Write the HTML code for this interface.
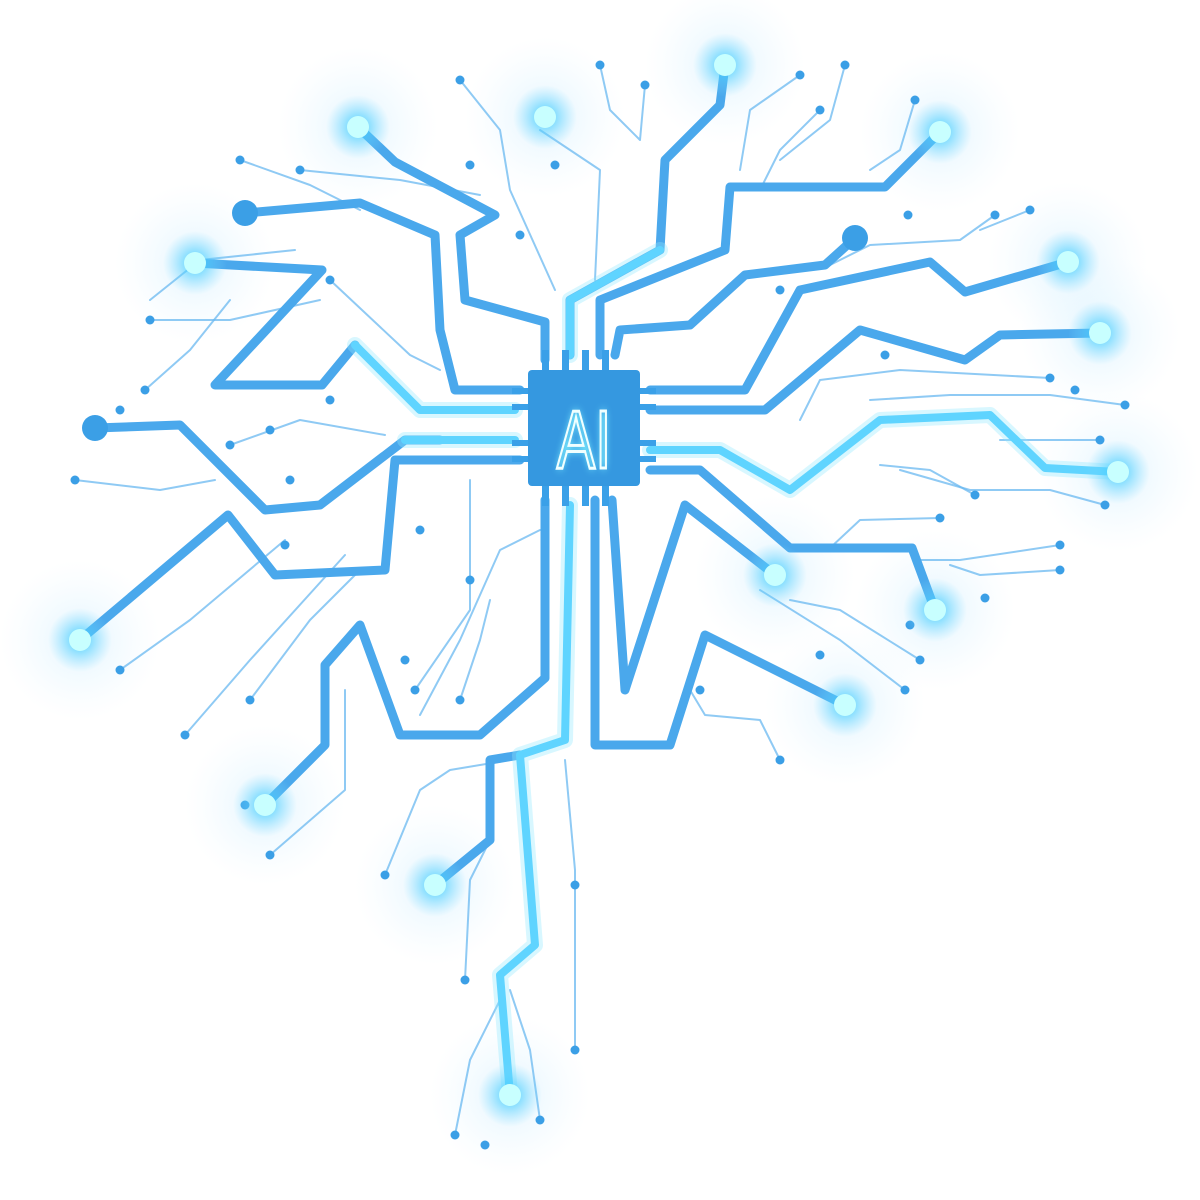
<!DOCTYPE html>
<html><head><meta charset="utf-8"><style>
html,body{margin:0;padding:0;background:#fff;width:1200px;height:1200px;overflow:hidden}
svg{display:block}
</style></head><body>
<svg id="art" width="1200" height="1200" viewBox="0 0 1200 1200" xmlns="http://www.w3.org/2000/svg">
<defs>
<radialGradient id="glow"><stop offset="0" stop-color="#9ff" stop-opacity="1"/><stop offset="0.35" stop-color="#4fd0ff" stop-opacity="0.6"/><stop offset="1" stop-color="#7fd8ff" stop-opacity="0"/></radialGradient>
<radialGradient id="halo"><stop offset="0" stop-color="#cfefff" stop-opacity="0.6"/><stop offset="1" stop-color="#e8f6ff" stop-opacity="0"/></radialGradient>
<filter id="blur" x="-50%" y="-50%" width="200%" height="200%"><feGaussianBlur stdDeviation="4"/></filter>
</defs>
<g id="halos"></g>
<g id="thin"></g>
<g id="thick"></g>
<g id="cyan"></g>
<g id="dots"></g>
<g id="chip">
<rect x="512" y="388" width="18" height="6" fill="#3aa0e8"/><rect x="512" y="404" width="18" height="6" fill="#3aa0e8"/>
<rect x="512" y="440" width="18" height="6" fill="#3aa0e8"/><rect x="512" y="456" width="18" height="6" fill="#3aa0e8"/>
<rect x="638" y="388" width="18" height="6" fill="#3aa0e8"/><rect x="638" y="404" width="18" height="6" fill="#3aa0e8"/>
<rect x="638" y="440" width="18" height="6" fill="#3aa0e8"/><rect x="638" y="456" width="18" height="6" fill="#3aa0e8"/>
<rect x="542" y="350" width="7" height="22" fill="#3aa0e8"/><rect x="562" y="350" width="7" height="22" fill="#3aa0e8"/><rect x="582" y="350" width="7" height="22" fill="#3aa0e8"/><rect x="602" y="350" width="7" height="22" fill="#3aa0e8"/>
<rect x="542" y="484" width="7" height="22" fill="#3aa0e8"/><rect x="562" y="484" width="7" height="22" fill="#3aa0e8"/><rect x="582" y="484" width="7" height="22" fill="#3aa0e8"/><rect x="602" y="484" width="7" height="22" fill="#3aa0e8"/>
<rect x="528" y="370" width="112" height="116" rx="4" fill="#3598e0"/>
<g transform="translate(584,468) scale(0.8,1.15)">
<text x="0" y="0" text-anchor="middle" font-family="Liberation Sans, sans-serif" font-size="72" fill="#7ff0ff" filter="url(#blur)">AI</text>
<text x="0" y="0" text-anchor="middle" font-family="Liberation Sans, sans-serif" font-size="72" fill="none" stroke="#f0ffff" stroke-width="2.5">AI</text>
</g>
</g>
</svg>
<script>
const thickPaths=[
[[358,127],[395,162],[495,215],[460,235],[465,300],[545,322],[545,360]],
[[245,213],[360,203],[435,235],[440,330],[455,390],[520,390]],
[[195,263],[322,270],[215,385],[322,385],[355,345]],
[[95,428],[180,425],[265,510],[320,505],[405,440],[440,440]],
[[80,640],[228,515],[275,575],[385,570],[395,460],[520,460]],
[[265,805],[325,745],[325,665],[360,625],[400,735],[480,735],[545,678],[545,500]],
[[435,885],[490,840],[490,760],[520,755]],
[[725,65],[720,105],[665,160],[660,250],[570,300],[570,355]],
[[940,132],[885,187],[730,187],[725,250],[600,300],[600,355]],
[[855,238],[825,265],[745,275],[690,325],[620,330],[615,355]],
[[1068,262],[965,292],[930,262],[800,290],[745,390],[650,390]],
[[1100,333],[1000,335],[965,360],[860,330],[765,410],[650,410]],
[[650,470],[700,470],[790,548],[912,548],[935,610]],
[[775,575],[685,505],[625,690],[612,500]],
[[845,705],[705,635],[670,745],[595,745],[595,500]]
];
const cyanPaths=[
[[355,345],[420,410],[515,410]],
[[405,440],[515,440]],
[[570,505],[565,740],[520,755],[535,945],[500,975],[510,1095]],
[[1118,472],[1045,468],[990,415],[880,420],[790,490],[720,450],[650,450]],
[[570,355],[570,300],[660,250]]
];
const thinPaths=[
[[460,80],[500,130],[510,190],[555,290]],[[600,65],[610,110],[640,140],[645,85]],[[540,130],[600,170],[595,280]],
[[800,75],[750,110],[740,170]],[[845,65],[830,120],[780,160]],[[915,100],[900,150],[870,170]],
[[300,170],[400,180],[480,195]],[[150,300],[200,260],[295,250]],[[145,390],[190,350],[230,300]],
[[330,280],[410,355],[440,370]],[[230,445],[300,420],[385,435]],[[75,480],[160,490],[215,480]],
[[120,670],[190,620],[285,540]],[[185,735],[250,660],[345,555]],[[250,700],[310,620],[360,570]],
[[270,855],[345,790],[345,690]],[[385,875],[420,790],[450,770],[510,760]],[[415,690],[470,610],[470,480]],
[[420,715],[460,640],[500,550],[540,530]],[[460,700],[480,640],[490,600]],[[465,980],[470,880],[490,840]],
[[575,1050],[575,870],[565,760]],[[455,1135],[470,1060],[500,1000]],[[540,1120],[530,1050],[510,990]],
[[780,760],[760,720],[705,715],[690,690]],[[905,690],[840,640],[760,590]],[[920,660],[840,610],[790,600]],
[[1060,545],[960,560],[915,560]],[[1060,570],[980,575],[950,565]],[[940,518],[860,520],[830,548]],
[[1105,505],[1050,490],[970,490],[900,470]],[[1125,405],[1050,395],[950,395],[870,400]],
[[1050,378],[900,370],[820,380],[800,420]],[[995,215],[960,240],[870,245],[830,265]],[[1030,210],[980,230]],
[[1100,440],[1000,440]],[[975,495],[930,470],[880,465]],[[820,110],[780,150],[760,190]],
[[240,160],[310,185],[360,210]],[[150,320],[230,320],[320,300]]
];
const glowNodes=[[358,127],[195,263],[80,640],[265,805],[435,885],[510,1095],[725,65],[940,132],[1068,262],[1100,333],[1118,472],[935,610],[775,575],[845,705],[545,117]];
const bigDots=[[245,213],[95,428],[855,238]];
const smallDots=[[460,80],[600,65],[645,85],[800,75],[845,65],[915,100],[300,170],[240,160],[150,320],[145,390],[120,410],[330,280],[230,445],[75,480],[120,670],[185,735],[250,700],[270,855],[245,805],[385,875],[415,690],[460,700],[465,980],[575,1050],[455,1135],[485,1145],[540,1120],[780,760],[905,690],[920,660],[1060,545],[1060,570],[940,518],[1105,505],[1125,405],[1050,378],[995,215],[1030,210],[1100,440],[975,495],[820,110],[908,215],[1075,390],[910,625],[985,598],[820,655],[330,400],[290,480],[270,430],[285,545],[470,580],[405,660],[700,690],[555,165],[520,235],[470,165],[780,290],[885,355],[575,885],[420,530]];
const NS="http://www.w3.org/2000/svg";
function pts(p){return p.map(q=>q.join(',')).join(' ');}
function line(g,p,stroke,w,op,name){const e=document.createElementNS(NS,'polyline');e.setAttribute('points',pts(p));e.setAttribute('fill','none');e.setAttribute('stroke',stroke);e.setAttribute('stroke-width',w);e.setAttribute('stroke-linejoin','round');e.setAttribute('stroke-linecap','round');e.setAttribute('opacity',op);


document.getElementById(g).appendChild(e);return e;}
function circ(g,c,r,fill,name){const e=document.createElementNS(NS,'circle');e.setAttribute('cx',c[0]);e.setAttribute('cy',c[1]);e.setAttribute('r',r);e.setAttribute('fill',fill);


document.getElementById(g).appendChild(e);}
glowNodes.forEach(c=>circ('halos',c,80,'url(#halo)','node-halo'));
thinPaths.forEach(p=>line('thin',p,'#6ab8f0',2,0.75,'thin-trace'));
thickPaths.forEach(p=>line('thick',p,'#4aa8ec',9,1,'circuit-trace'));
cyanPaths.forEach(p=>{line('cyan',p,'#8fe8ff',16,0.35,'trace-glow');line('cyan',p,'#5fd4ff',8,1,'glowing-trace');});
smallDots.forEach(c=>circ('dots',c,4.5,'#3b9fe6','small-node'));
bigDots.forEach(c=>circ('dots',c,13,'#3b9fe6','large-node'));
glowNodes.forEach(c=>{circ('dots',c,32,'url(#glow)','node-glow');circ('dots',c,11,'#c8ffff','glowing-node');});
</script>
</body></html>
